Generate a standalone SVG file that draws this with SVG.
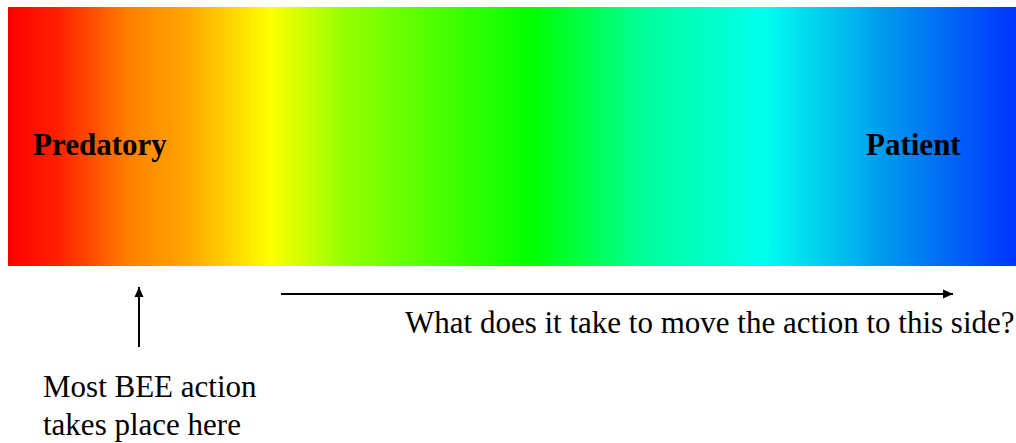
<svg xmlns="http://www.w3.org/2000/svg" width="1016" height="443" viewBox="0 0 1016 443">
<defs>
<linearGradient id="spec" x1="8" y1="0" x2="1016" y2="0" gradientUnits="userSpaceOnUse">
<stop offset="0" stop-color="#ff0000"/>
<stop offset="0.05" stop-color="#ff2000"/>
<stop offset="0.12" stop-color="#ff8000"/>
<stop offset="0.18" stop-color="#ffa800"/>
<stop offset="0.26" stop-color="#ffff00"/>
<stop offset="0.33" stop-color="#99ff00"/>
<stop offset="0.52" stop-color="#00ff00"/>
<stop offset="0.63" stop-color="#00ff99"/>
<stop offset="0.75" stop-color="#00ffee"/>
<stop offset="0.87" stop-color="#0099ee"/>
<stop offset="1" stop-color="#0033ff"/>
</linearGradient>
<marker id="ah" viewBox="0 0 10 10" refX="10" refY="5" markerWidth="10" markerHeight="10" markerUnits="userSpaceOnUse" orient="auto">
<path d="M0,0.5 L10,5 L0,9.5 Z" fill="#000"/>
</marker>
<style>
.lbl{font-family:"Liberation Serif","Times New Roman",serif;font-size:31px;fill:#000}
.b{font-weight:bold}
.con{stroke:#000;stroke-width:2;fill:none}
</style>
</defs>
<g id="bar">
<rect x="8" y="7" width="1008" height="259" fill="url(#spec)"/>
<text class="lbl b" x="33" y="155">Predatory</text>
<text class="lbl b" x="866" y="155">Patient</text>
</g>
<g id="connectors">
<line class="con" x1="139" y1="347" x2="139" y2="287" marker-end="url(#ah)"/>
<line class="con" x1="281" y1="294" x2="953" y2="294" marker-end="url(#ah)"/>
</g>
<g id="question">
<text class="lbl" x="405" y="333">What does it take to move the action to this side?</text>
</g>
<g id="note">
<text class="lbl" x="43" y="397">Most BEE action</text>
<text class="lbl" x="43" y="435">takes place here</text>
</g>
</svg>
